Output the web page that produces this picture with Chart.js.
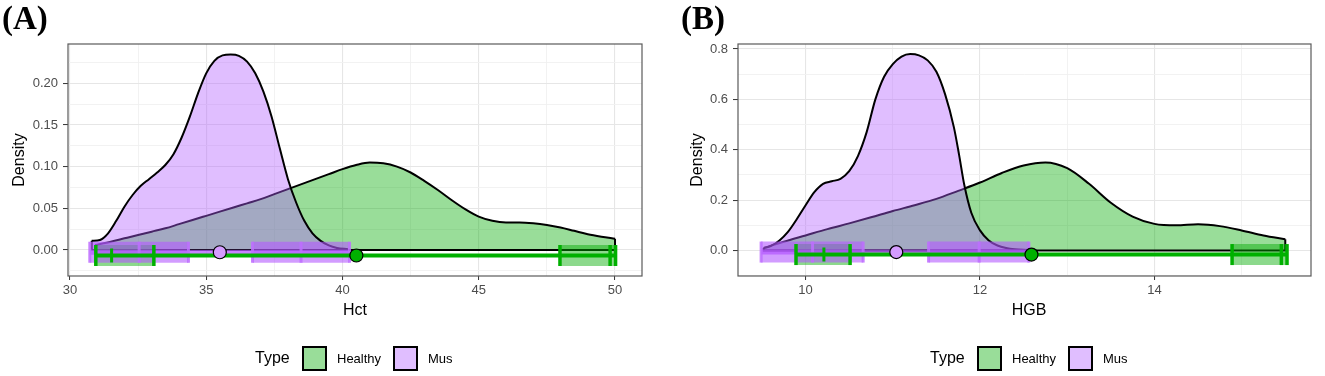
<!DOCTYPE html>
<html><head><meta charset="utf-8">
<script src="https://cdn.jsdelivr.net/npm/chart.js@4.4.1/dist/chart.umd.min.js"></script>
<style>
html,body{margin:0;padding:0;background:#fff;}
#wrap{position:relative;width:1325px;height:376px;overflow:hidden;font-family:"Liberation Sans",Arial,sans-serif;color:#000;}
canvas{position:absolute;top:0;}
.t{position:absolute;white-space:nowrap;line-height:1;}
.panel{font-family:"Liberation Serif","Times New Roman",serif;font-weight:bold;font-size:33px;}
.ytitle{font-size:16px;transform:translate(-50%,-50%) rotate(-90deg);}
.xtitle{font-size:16px;transform:translate(-50%,-50%);}
.ltitle{font-size:16px;transform:translateY(-50%);}
.llab{font-size:13px;transform:translateY(-50%);}
.key{position:absolute;width:25px;height:25px;box-sizing:border-box;border:2px solid #000;}
</style></head>
<body><div id="wrap">
<canvas id="cA" width="660" height="376" style="left:0"></canvas>
<canvas id="cB" width="665" height="376" style="left:660px"></canvas>
<div class="t panel" style="left:2px;top:2px">(A)</div>
<div class="t panel" style="left:681px;top:2px">(B)</div>
<div class="t ytitle" style="left:19px;top:160px">Density</div>
<div class="t ytitle" style="left:697px;top:160px">Density</div>
<div class="t xtitle" style="left:355px;top:310px">Hct</div>
<div class="t xtitle" style="left:1029px;top:310px">HGB</div>
<div class="t ltitle" style="left:255px;top:358px">Type</div>
<div class="key" style="left:302px;top:346px;background:#99dd99"></div>
<div class="t llab" style="left:337px;top:358px">Healthy</div>
<div class="key" style="left:393px;top:346px;background:#e0beff"></div>
<div class="t llab" style="left:428px;top:358px">Mus</div>
<div class="t ltitle" style="left:930px;top:358px">Type</div>
<div class="key" style="left:977px;top:346px;background:#99dd99"></div>
<div class="t llab" style="left:1012px;top:358px">Healthy</div>
<div class="key" style="left:1068px;top:346px;background:#e0beff"></div>
<div class="t llab" style="left:1103px;top:358px">Mus</div>
</div>
<script>
// ===== Panel A: Hct =====
const hctTicks = [30, 35, 40, 45, 50];
const hctMinorTicks = [32.5, 37.5, 42.5, 47.5];
const hctDensTicks = [0, 0.05, 0.10, 0.15, 0.20];
const hctDensMinor = [-0.025, 0.025, 0.075, 0.125, 0.175, 0.225];

const hctHealthyX = [30.92,31.5,32,32.5,33,33.5,34,34.5,35,35.5,36,36.5,37,37.5,38,38.5,39,39.5,40,40.5,41,41.5,42,42.5,43,43.5,44,44.5,45,45.5,46,46.5,47,47.5,48,48.5,49,49.5,50];
const hctHealthyY = [0.006,0.010,0.014,0.018,0.022,0.026,0.031,0.036,0.041,0.046,0.051,0.056,0.061,0.067,0.073,0.079,0.085,0.091,0.097,0.102,0.105,0.104,0.100,0.093,0.083,0.072,0.060,0.049,0.040,0.035,0.033,0.033,0.032,0.030,0.027,0.023,0.019,0.016,0.0135];
const hctMusX = [30.8,31.1,31.4,31.7,32.0,32.3,32.6,32.9,33.2,33.5,33.8,34.1,34.4,34.7,35.0,35.3,35.6,35.9,36.2,36.5,36.8,37.1,37.4,37.7,38.0,38.3,38.6,38.9,39.2,39.5,39.8,40.2];
const hctMusY = [0.011,0.012,0.020,0.035,0.052,0.066,0.077,0.085,0.093,0.102,0.115,0.135,0.160,0.188,0.212,0.227,0.2335,0.2345,0.233,0.226,0.212,0.190,0.160,0.122,0.085,0.057,0.035,0.020,0.011,0.0055,0.0025,0.001];

const hctHealthyMean = 40.51;
const hctHealthyBoxes = [[30.95, 33.08], [47.98, 50.02]];
const hctHealthyBars = [30.95, 33.08, 47.98, 49.82, 50.02];
const hctHealthyCross = [31.53];
const hctHealthyRow = -0.0066;
const hctMusMean = 35.50;
const hctMusBoxes = [[30.73, 34.35], [36.70, 40.26]];
const hctMusBars = [30.73, 32.54, 34.35, 36.70, 38.48, 40.26];
const hctMusRow = -0.0027;

// ===== Panel B: HGB =====
const hgbTicks = [10, 12, 14];
const hgbMinorTicks = [11, 13, 15];
const hgbDensTicks = [0, 0.2, 0.4, 0.6, 0.8];
const hgbDensMinor = [-0.1, 0.1, 0.3, 0.5, 0.7];

const hgbHealthyX = [9.52,9.75,10,10.25,10.5,10.75,11,11.25,11.5,11.75,12,12.25,12.5,12.75,13,13.25,13.5,13.75,14,14.25,14.5,14.75,15,15.25,15.5];
const hgbHealthyY = [0.010,0.035,0.060,0.085,0.108,0.132,0.157,0.180,0.205,0.237,0.270,0.308,0.338,0.350,0.327,0.265,0.190,0.135,0.106,0.100,0.104,0.097,0.080,0.060,0.045];
const hgbMusX = [9.52,9.6,9.7,9.8,9.9,10.0,10.1,10.2,10.3,10.4,10.5,10.6,10.7,10.8,10.9,11.0,11.1,11.2,11.3,11.4,11.5,11.6,11.7,11.76,11.82,11.9,12.0,12.1,12.2,12.3,12.4,12.55];
const hgbMusY = [0.010,0.018,0.040,0.075,0.125,0.180,0.232,0.265,0.275,0.285,0.315,0.375,0.470,0.600,0.690,0.740,0.770,0.780,0.775,0.755,0.710,0.620,0.490,0.380,0.260,0.150,0.080,0.040,0.020,0.010,0.005,0.002];

const hgbHealthyMean = 12.59;
const hgbHealthyBoxes = [[9.89, 10.51], [14.89, 15.52]];
const hgbHealthyBars = [9.89, 10.51, 14.89, 15.455, 15.52];
const hgbHealthyCross = [10.21];
const hgbHealthyRow = -0.0159;
const hgbMusMean = 11.04;
const hgbMusBoxes = [[9.49, 10.66], [11.41, 12.56]];
const hgbMusBars = [9.49, 10.08, 10.66, 11.41, 11.99, 12.56];
const hgbMusRow = -0.006;

// ===== styling =====
const FONT = "'Liberation Sans', Arial, sans-serif";
Chart.defaults.font.family = FONT;
const GREEN_FILL = 'rgba(0,170,0,0.4)';
const PURPLE_FILL = 'rgba(178,92,255,0.4)';
const GREEN = '#00b000';

function pts(xs, ys) { return xs.map((x, i) => ({x: x, y: ys[i]})); }

function buildDatasets(p) {
  const ds = [];
  let layer = 1000;
  const add = (d) => { d.order = layer--; ds.push(d); };
  const density = (xs, ys, fill) => {
    add({data: pts(xs, ys), borderColor: '#000', borderWidth: 2, backgroundColor: fill, fill: 'origin',
         pointRadius: 0, cubicInterpolationMode: 'monotone'});
    const n = xs.length - 1;
    add({data: [{x: xs[0], y: ys[0]}, {x: xs[0], y: 0}, {x: xs[n], y: 0}, {x: xs[n], y: ys[n]}],
         borderColor: '#000', borderWidth: 2, fill: false, pointRadius: 0, tension: 0});
  };
  const boxes = (list, row, color) => list.forEach(b => add({data: [{x: b[0], y: row}, {x: b[1], y: row}],
         borderColor: color, borderWidth: 21, borderCapStyle: 'butt', fill: false, pointRadius: 0, tension: 0}));
  const hline = (x0, x1, row, color, w) => add({data: [{x: x0, y: row}, {x: x1, y: row}], borderColor: color,
         borderWidth: w, borderCapStyle: 'butt', fill: false, pointRadius: 0, tension: 0});
  const marks = (xs, row, style, r, color, w) => add({data: xs.map(x => ({x: x, y: row})), showLine: false,
         pointStyle: style, rotation: style === 'line' ? 90 : 0, pointRadius: r, pointBorderWidth: w,
         pointBorderColor: color, pointBackgroundColor: color});
  const dot = (x, row, fill) => add({data: [{x: x, y: row}], showLine: false, pointStyle: 'circle', pointRadius: 6.5,
         pointBorderWidth: 1.2, pointBorderColor: '#000', pointBackgroundColor: fill});

  density(p.hx, p.hy, GREEN_FILL);
  density(p.mx, p.my, PURPLE_FILL);
  boxes(p.hBoxes, p.hRow, 'rgba(0,170,0,0.45)');
  boxes(p.mBoxes, p.mRow, 'rgba(180,90,255,0.6)');
  hline(p.mBoxes[0][0], p.mBoxes[1][1], p.mRow, 'rgba(180,90,255,0.75)', 5);
  marks(p.mBars, p.mRow, 'line', 10.5, 'rgba(190,110,255,0.85)', 3);
  hline(p.hBoxes[0][0], p.hBoxes[1][1], p.hRow, GREEN, 4);
  marks(p.hBars, p.hRow, 'line', 10.5, GREEN, 3.5);
  marks(p.hCross, p.hRow, 'cross', 7, GREEN, 3);
  dot(p.mMean, p.mRow, '#d59cff');
  dot(p.hMean, p.hRow, GREEN);
  return ds;
}

const near = (v, arr) => arr.some(a => Math.abs(a - v) < 1e-9);

const framePlugin = {
  id: 'frame',
  afterDatasetsDraw(chart) {
    const a = chart.chartArea, ctx = chart.ctx;
    ctx.save();
    ctx.strokeStyle = '#5a5a5a';
    ctx.lineWidth = 1.2;
    ctx.strokeRect(a.left, a.top, a.right - a.left, a.bottom - a.top);
    ctx.restore();
  }
};

function axis(min, max, majors, minors, fmt, isX, fitSize) {
  const all = majors.concat(minors.filter(v => v >= min && v <= max)).sort((a, b) => a - b);
  const o = {
    type: 'linear', min: min, max: max, bounds: 'data',
    afterBuildTicks: s => { s.ticks = all.map(v => ({value: v})); },
    ticks: {
      autoSkip: false, maxRotation: 0, minRotation: 0,
      padding: isX ? 3 : 5,
      color: '#4d4d4d', font: {family: FONT, size: 13},
      callback: v => near(v, majors) ? fmt(v) : ''
    },
    grid: {
      drawTicks: true, tickLength: isX ? 4 : 5, tickWidth: 1,
      color: c => (c.tick && near(c.tick.value, majors)) ? '#e6e6e6' : '#f1f1f1',
      lineWidth: c => (c.tick && near(c.tick.value, majors)) ? 1.1 : 0.9,
      tickColor: c => (c.tick && near(c.tick.value, majors)) ? '#333' : 'rgba(0,0,0,0)'
    },
    border: {display: false}
  };
  if (isX) o.afterFit = s => { s.height = fitSize; };
  else o.afterFit = s => { s.width = fitSize; };
  return o;
}

function makeChart(id, p) {
  new Chart(document.getElementById(id), {
    type: 'line',
    data: {datasets: buildDatasets(p)},
    options: {
      responsive: false, animation: false, events: [],
      layout: {padding: {left: 0, right: p.padRight, top: 44, bottom: 70}},
      plugins: {legend: {display: false}, tooltip: {enabled: false}},
      scales: {
        x: axis(p.xmin, p.xmax, p.xt, p.xm, p.xfmt, true, 30),
        y: axis(p.ymin, p.ymax, p.yt, p.ym, p.yfmt, false, p.yWidth)
      }
    },
    plugins: [framePlugin]
  });
}

makeChart('cA', {
  hx: hctHealthyX, hy: hctHealthyY, mx: hctMusX, my: hctMusY,
  hBoxes: hctHealthyBoxes, hBars: hctHealthyBars, hCross: hctHealthyCross, hRow: hctHealthyRow, hMean: hctHealthyMean,
  mBoxes: hctMusBoxes, mBars: hctMusBars, mRow: hctMusRow, mMean: hctMusMean,
  xmin: 29.93, xmax: 50.99, ymin: -0.0312, ymax: 0.2472,
  xt: hctTicks, xm: hctMinorTicks, yt: hctDensTicks, ym: hctDensMinor,
  xfmt: v => String(v), yfmt: v => v.toFixed(2),
  padRight: 18, yWidth: 68
});
makeChart('cB', {
  hx: hgbHealthyX, hy: hgbHealthyY, mx: hgbMusX, my: hgbMusY,
  hBoxes: hgbHealthyBoxes, hBars: hgbHealthyBars, hCross: hgbHealthyCross, hRow: hgbHealthyRow, hMean: hgbHealthyMean,
  mBoxes: hgbMusBoxes, mBars: hgbMusBars, mRow: hgbMusRow, mMean: hgbMusMean,
  xmin: 9.225, xmax: 15.795, ymin: -0.101, ymax: 0.82,
  xt: hgbTicks, xm: hgbMinorTicks, yt: hgbDensTicks, ym: hgbDensMinor,
  xfmt: v => String(v), yfmt: v => v.toFixed(1),
  padRight: 5, yWidth: 78
});
</script>
</body></html>
